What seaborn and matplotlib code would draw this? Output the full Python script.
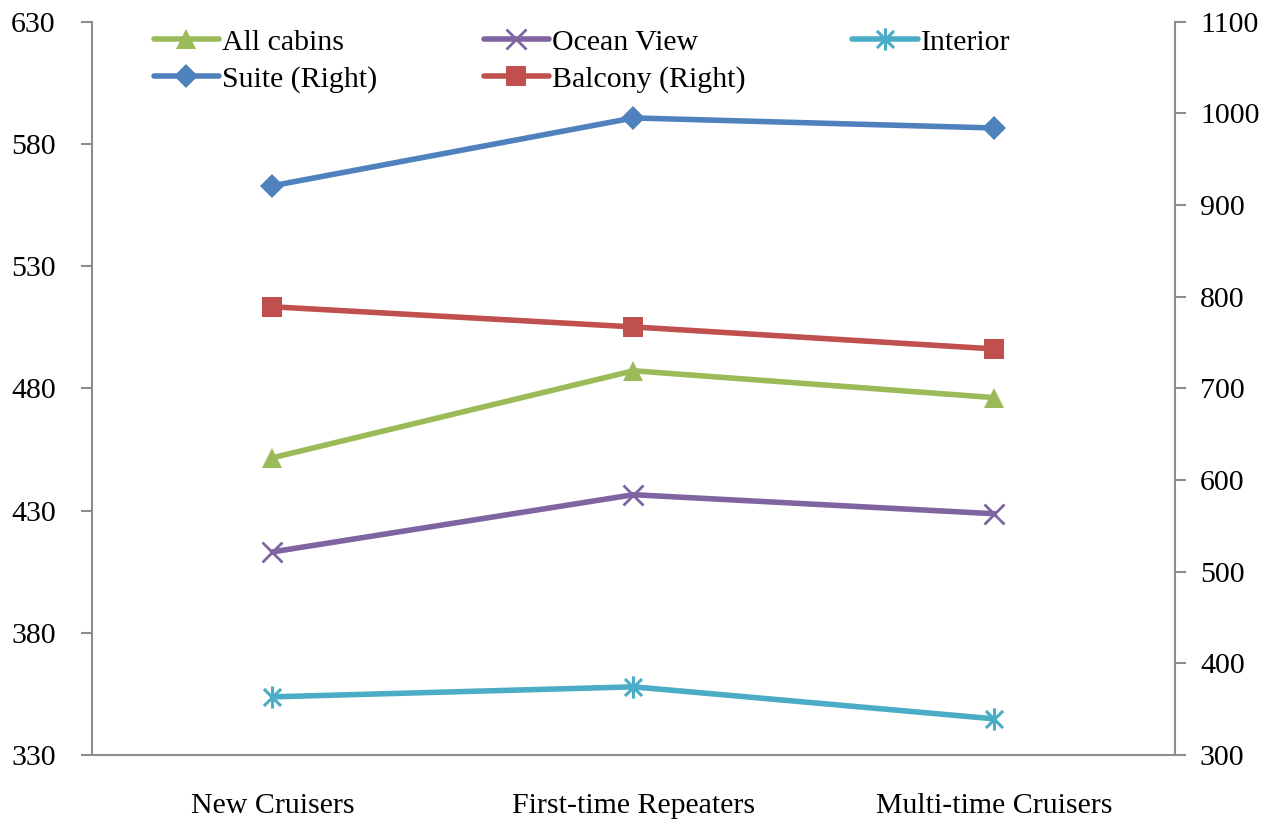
import matplotlib
matplotlib.use("Agg")
import matplotlib.pyplot as plt
from matplotlib.path import Path
import seaborn as sns

categories = ["New Cruisers", "First-time Repeaters", "Multi-time Cruisers"]
all_cabins = [451.6, 487.2, 476.2]
ocean_view = [413.1, 436.5, 428.7]
interior = [353.8, 357.9, 344.8]
suite_right = [921, 995, 984]
balcony_right = [789, 767, 743]

sns.set_style("white")
plt.rcParams["font.family"] = ["Liberation Serif", "DejaVu Serif"]
plt.rcParams["text.color"] = "black"
plt.rcParams["xtick.labelcolor"] = "black"
plt.rcParams["ytick.labelcolor"] = "black"

# asterisk marker: an x with a vertical bar through it
star = Path([(-1, -1), (1, 1), (-1, 1), (1, -1), (0, -1.3), (0, 1.3)],
            [Path.MOVETO, Path.LINETO, Path.MOVETO, Path.LINETO,
             Path.MOVETO, Path.LINETO])

fig = plt.figure(figsize=(12.74, 8.24), dpi=100)
ax = fig.add_axes([0.0722, 0.0837, 0.850, 0.890])
ax2 = ax.twinx()

lw = 4
fs = 21.5
sns.lineplot(x=categories, y=all_cabins, ax=ax, color="#9BBB59", lw=lw,
             marker="^", markersize=15, markeredgewidth=0, label="All cabins")
sns.lineplot(x=categories, y=ocean_view, ax=ax, color="#8064A2", lw=lw,
             marker="x", markersize=14, markeredgewidth=2,
             markeredgecolor="#8064A2", label="Ocean View")
sns.lineplot(x=categories, y=interior, ax=ax, color="#4BACC6", lw=lw,
             marker=star, markersize=16, markeredgewidth=2.2,
             markeredgecolor="#4BACC6", label="Interior")
sns.lineplot(x=categories, y=suite_right, ax=ax2, color="#4F81BD", lw=lw,
             marker="D", markersize=12, markeredgewidth=0, label="Suite (Right)")
sns.lineplot(x=categories, y=balcony_right, ax=ax2, color="#C0504D", lw=lw,
             marker="s", markersize=14, markeredgewidth=0, label="Balcony (Right)")

ax.set_xlim(-0.5, 2.5)
ax.set_ylim(330, 630)
ax.set_yticks(range(330, 631, 50))
ax2.set_ylim(300, 1100)
ax2.set_yticks(range(300, 1101, 100))

gray = "#8C8C8C"
for a in (ax, ax2):
    for side, sp in a.spines.items():
        sp.set_color(gray)
        sp.set_linewidth(1.5)
    a.spines["top"].set_visible(False)
    a.set_xlabel("")
    a.set_ylabel("")
ax.spines["right"].set_visible(False)
ax2.spines["left"].set_visible(False)
ax2.spines["bottom"].set_visible(False)

ax.tick_params(axis="y", direction="out", length=8, width=1.5, color=gray,
               labelsize=fs, pad=18)
ax2.tick_params(axis="y", direction="out", length=8, width=1.5, color=gray,
                labelsize=fs, pad=10)
ax.set_xticks([-0.5, 0.5, 1.5, 2.5], minor=True)
ax.tick_params(axis="x", which="minor", direction="out", length=8, width=1.5,
               color=gray)
ax.tick_params(axis="x", which="major", length=0, labelsize=fs, pad=27)

h1, l1 = ax.get_legend_handles_labels()
h2, l2 = ax2.get_legend_handles_labels()
ax.get_legend().remove()
ax2.get_legend().remove()
handles = [h1[0], h2[0], h1[1], h2[1], h1[2]]
labels = [l1[0], l2[0], l1[1], l2[1], l1[2]]
fig.legend(handles, labels, ncol=3, loc="upper left",
           bbox_to_anchor=(0.1065, 0.987), frameon=False, fontsize=fs,
           handlelength=2.2, handletextpad=0.1, columnspacing=3.55,
           labelspacing=0.33, borderaxespad=0.2)

fig.savefig("out.png", dpi=100)
